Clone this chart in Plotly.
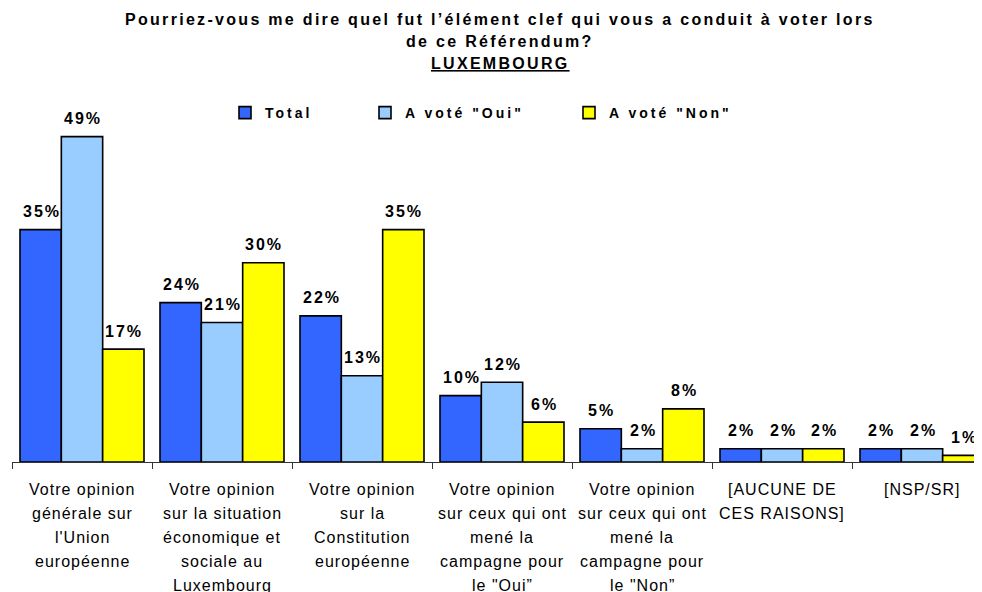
import plotly.graph_objects as go

# ---------------- data ----------------
categories = [
    ["Votre opinion", "générale sur", "l'Union", "européenne"],
    ["Votre opinion", "sur la situation", "économique et", "sociale au", "Luxembourg"],
    ["Votre opinion", "sur la", "Constitution", "européenne"],
    ["Votre opinion", "sur ceux qui ont", "mené la", "campagne pour", "le \"Oui\u201d"],
    ["Votre opinion", "sur ceux qui ont", "mené la", "campagne pour", "le \"Non\u201d"],
    ["[AUCUNE DE", "CES RAISONS]"],
    ["[NSP/SR]"],
]
series_names = ["Total", "A voté \"Oui\"", "A voté \"Non\""]
total = [35, 24, 22, 10, 5, 2, 2]
oui = [49, 21, 13, 12, 2, 2, 2]
non = [17, 30, 35, 6, 8, 2, 1]
series_values = [total, oui, non]

title_lines = [
    "Pourriez-vous me dire quel fut l\u2019élément clef qui vous a conduit à voter lors",
    "de ce Référendum?",
    "LUXEMBOURG",
]

# ---------------- style ----------------
FONT = "Liberation Sans, Arial, sans-serif"
colors = ["#3366FF", "#99CCFF", "#FFFF00"]
OFF = 8  # default page body margin in the browser
W, H = 982, 592
# desired page positions
page_left, page_top, page_base = 12, 100, 462
ML = page_left - OFF
MT = page_top - OFF
MB = H - (page_base - OFF)
MR = 0
plot_w = W - ML - MR
plot_h = H - MT - MB
px_per_unit = 6.64
ymax = plot_h / px_per_unit
cat_px = 140.0
x_hi = -0.5 + plot_w / cat_px
bargap = 16 / 140
bar_px = cat_px * (1 - bargap) / 3

cat_keys = [" ".join(c) for c in categories]


def spaced(t, ls):
    return f'<span style="letter-spacing:{ls}px">{t}</span>'


fig = go.Figure()
legend_ids = ["legend", "legend2", "legend3"]
for j, (name, vals) in enumerate(zip(series_names, series_values)):
    fig.add_trace(go.Bar(
        x=cat_keys, y=vals, name=spaced(f"<b>{name}</b>", 3),
        marker=dict(color=colors[j], line=dict(color="#000000", width=1.6)),
        legend=legend_ids[j], hoverinfo="skip",
    ))

annotations = []
# data labels
for j, vals in enumerate(series_values):
    for i, v in enumerate(vals):
        annotations.append(dict(
            x=i, y=v, xref="x", yref="y", text=spaced(f"<b>{v}%</b>", 2),
            showarrow=False, xshift=(j - 1) * bar_px + 1, yshift=18,
            yanchor="middle", font=dict(family=FONT, size=16, color="#000000"),
        ))
# category labels (one annotation per line)
for i, lines in enumerate(categories):
    for k, line in enumerate(lines):
        annotations.append(dict(
            x=i, y=0, xref="x", yref="y", text=spaced(line, 1),
            showarrow=False, yanchor="middle", yshift=-(27 + 24 * k),
            font=dict(family=FONT, size=16, color="#000000"),
        ))
# title lines (page-centre y of each line)
title_centers = [19, 41, 63]
for k, line in enumerate(title_lines):
    txt = f"<b>{line}</b>"
    if k == 2:
        txt = f"<b><u>{line}</u></b>"
    annotations.append(dict(
        x=(500 - page_left) / plot_w, y=1, xref="paper", yref="paper",
        text=spaced(txt, 2.3), showarrow=False, xanchor="center",
        yanchor="middle", yshift=page_top - title_centers[k],
        font=dict(family=FONT, size=16, color="#000000"),
    ))

legend_left_px = [225, 365, 569]  # page x of legend boxes
legend_common = dict(
    orientation="h", yanchor="middle", xanchor="left",
    y=1 + (page_top - 113) / plot_h, bgcolor="rgba(0,0,0,0)",
    font=dict(family=FONT, size=14, color="#000000"),
    itemwidth=30,
)
layout_legends = {}
for lid, lx in zip(legend_ids, legend_left_px):
    d = dict(legend_common)
    d["x"] = (lx - page_left) / plot_w
    layout_legends[lid] = d

fig.update_layout(
    width=W, height=H,
    margin=dict(l=ML, r=MR, t=MT, b=MB, pad=0),
    paper_bgcolor="#FFFFFF", plot_bgcolor="#FFFFFF",
    barmode="group", bargap=bargap, bargroupgap=0,
    font=dict(family=FONT, size=14, color="#000000"),
    showlegend=True,
    annotations=annotations,
    xaxis=dict(
        range=[-0.5, x_hi], showticklabels=False, ticks="outside",
        tickson="boundaries", ticklen=6, tickcolor="#333333", tickwidth=1,
        showline=True, linecolor="#333333", linewidth=1, showgrid=False,
        zeroline=False, fixedrange=True,
    ),
    yaxis=dict(
        range=[0, ymax], visible=False, showgrid=False, zeroline=False,
        fixedrange=True,
    ),
    **layout_legends,
)

fig.write_html("out.html")
